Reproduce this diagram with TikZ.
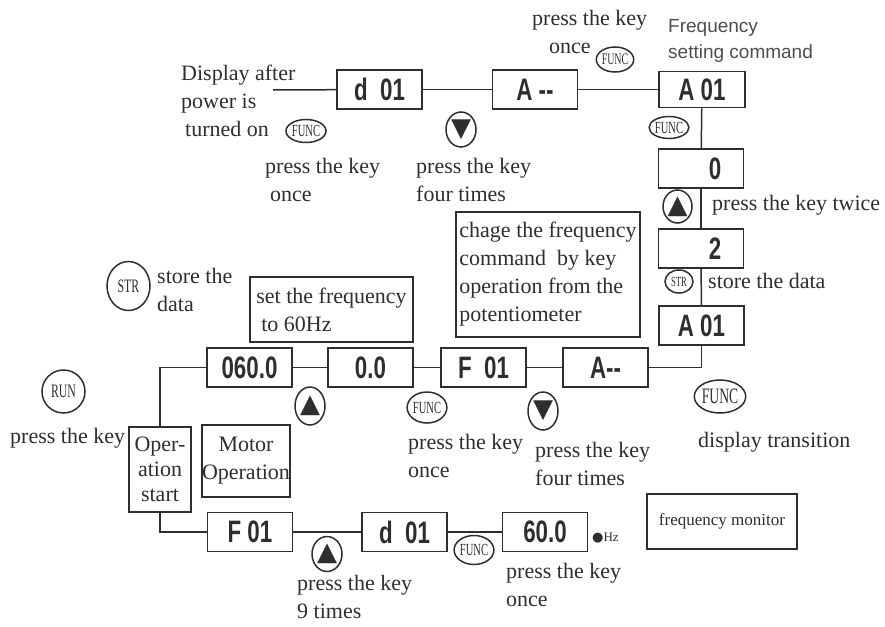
\documentclass[tikz,border=0pt]{standalone}
\usepackage{fontspec}
\setmainfont{Liberation Serif}
\newfontfamily\segfont[FakeStretch=0.72]{Liberation Sans}
\newfontfamily\symfont{DejaVu Sans}
\newfontfamily\keyfont[FakeStretch=0.62]{Liberation Serif}
\newfontfamily\cmdfont{Liberation Sans}
\usetikzlibrary{shapes.geometric}

\definecolor{ink}{HTML}{2E2E2E}

\tikzset{
  disp/.style={draw=ink,line width=1.6pt,minimum width=85pt,minimum height=39pt,
    inner sep=0pt,text=ink,font=\segfont\bfseries\fontsize{31}{31}\selectfont},
  note/.style={draw=ink,line width=1.4pt,inner sep=0pt,align=left,text=ink,
    font=\fontsize{22}{28}\selectfont},
  key/.style={ellipse,draw=ink,line width=1.5pt,inner sep=0pt,text=ink,
    font=\keyfont\fontsize{17}{17}\selectfont},
  arrowkey/.style={key,font=\symfont\fontsize{26}{26}\selectfont},
  txt/.style={anchor=north west,inner sep=0pt,align=left,text=ink,
    font=\fontsize{22}{28}\selectfont}
}

\begin{document}
\begin{tikzpicture}[x=1pt,y=-1pt]
  \useasboundingbox (0,0) rectangle (885,626);

  % seven segment displays
  \begin{scope}[every node/.style={disp}]
    \node (d01) at (379.5,89.5) {d\ \ 01};
    \node (tA) at (535,89.5) {A --};
    \node[minimum width=86pt,minimum height=36pt] (tA01) at (702,89.5) {A 01};
    \node (v0) at (701,168.5) {\hspace{28pt}0};
    \node (v2) at (701,248.5) {\hspace{28pt}2};
    \node (vA01) at (701.5,325.5) {A 01};
    \node (m600) at (249.5,367.5) {060.0};
    \node (m00) at (370.5,367.5) {0.0};
    \node (mF) at (483.5,367.5) {F\ \ 01};
    \node (mA) at (605.5,367.5) {A--\hspace{18pt}};
    \node (bF) at (250,532) {F 01};
    \node (bd) at (404.5,532) {d\ \ 01};
    \node (b60) at (545,532) {60.0};
  \end{scope}

  % framed remarks
  \node[note,minimum width=163pt,minimum height=65pt] (setf) at (331.5,309.5)
    {set the frequency\\\hspace{5pt}to 60Hz};
  \node[note,minimum width=184pt,minimum height=125pt] (chage) at (548,274.5)
    {chage the frequency\\command\ \ by key\\operation from the\\potentiometer};
  \node[note,align=center,minimum width=62pt,minimum height=85pt,
    font=\fontsize{22}{25}\selectfont] (opstart) at (160,469.5) {Oper-\\ation\\start};
  \node[note,align=center,minimum width=88pt,minimum height=72pt] (motor) at (246,461)
    {Motor\\Operation};
  \node[note,minimum width=150pt,minimum height=55pt,
    font=\fontsize{17}{17}\selectfont] (fmon) at (722,521.5) {frequency monitor};

  % keys
  \node[key,minimum width=40pt,minimum height=23pt] (kf1) at (306,131) {FUNC};
  \node[arrowkey,minimum width=30pt,minimum height=35pt] (kd1) at (461,129.5) {▼};
  \node[key,minimum width=36pt,minimum height=25pt,
    font=\keyfont\fontsize{16}{16}\selectfont] (kf2) at (615,59.5) {FUNC};
  \node[key,minimum width=38pt,minimum height=22pt] (kf3) at (669,127.5) {FUNC};
  \node[arrowkey,minimum width=29pt,minimum height=33pt] (ku1) at (677.5,206.5) {▲};
  \node[key,minimum width=28pt,minimum height=23pt,
    font=\keyfont\fontsize{14}{14}\selectfont] (ks1) at (679,281.5) {STR};
  \node[key,minimum width=43pt,minimum height=49pt,
    font=\keyfont\fontsize{19}{19}\selectfont] (ks2) at (128.5,286) {STR};
  \node[arrowkey,minimum width=30pt,minimum height=38pt] (ku2) at (310,406) {▲};
  \node[key,minimum width=38pt,minimum height=31pt] (kf4) at (427,407.5) {FUNC};
  \node[arrowkey,minimum width=30pt,minimum height=38pt] (kd2) at (543,411) {▼};
  \node[key,minimum width=50pt,minimum height=33pt,
    font=\keyfont\fontsize{22}{22}\selectfont] (kf5) at (720,396.5) {FUNC};
  \node[key,minimum width=43pt,minimum height=43pt,
    font=\keyfont\fontsize{19}{19}\selectfont] (krun) at (63.5,391.5) {RUN};
  \node[arrowkey,minimum width=30pt,minimum height=35pt] (ku3) at (327,554) {▲};
  \node[key,minimum width=35pt,minimum height=29pt] (kf6) at (474,550) {FUNC};

  % texts
  \begin{scope}[every node/.style={txt}]
    \node (pwr) at (181,65) {Display after\\power is\\\hspace{4pt}turned on};
    \node (t1) at (265,158) {press the key\\\hspace{5pt}once};
    \node (t2) at (416,158) {press the key\\four times};
    \node (t3) at (532,10) {press the key\\\hspace{17pt}once};
    \node[font=\cmdfont\fontsize{19}{26}\selectfont,text=ink!85] (cmd) at (668,19)
      {Frequency\\setting command};
    \node (t4) at (712,195) {press the key twice};
    \node (t5) at (708,273) {store the data};
    \node (t6) at (157,268) {store the\\data};
    \node (t7) at (408,434) {press the key\\once};
    \node (t8) at (535,442) {press the key\\four times};
    \node (t9) at (698,432) {display transition};
    \node (t10) at (10,428) {press the key};
    \node (t11) at (297,575) {press the key\\9 times};
    \node (t12) at (506,563) {press the key\\once};
    \node (hz) at (592,533) {{\symfont\fontsize{13}{13}\selectfont ●}{\fontsize{13}{13}\selectfont Hz}};
  \end{scope}

  \coordinate (start) at (273,90);

  % connectors
  \begin{scope}[every edge/.style={draw=ink,line width=1.5pt}]
    \path (start) edge (d01);
    \path (d01) edge (tA);
    \path (tA) edge (tA01);
    \path (tA01) edge (v0);
    \path (v0) edge (v2);
    \path (v2) edge (vA01);
    \path (mA) edge (mF);
    \path (mF) edge (m00);
    \path (m00) edge (m600);
    \path (bF) edge (bd);
    \path (bd) edge (b60);
  \end{scope}
  \draw[ink,line width=1.5pt] (vA01) |- (mA);
  \draw[ink,line width=1.5pt] (m600) -| (opstart);
  \draw[ink,line width=1.5pt] (opstart) |- (bF);

\end{tikzpicture}
\end{document}
